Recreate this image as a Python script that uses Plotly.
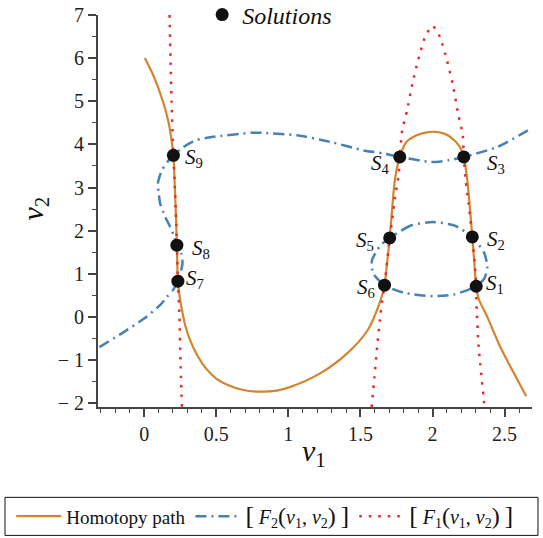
import numpy as np
import plotly.graph_objects as go

# ---------------- data ----------------
homotopy_v1 = [0.005, 0.07, 0.13, 0.17, 0.19, 0.203, 0.213, 0.221, 0.227, 0.234, 0.245, 0.26,
               0.285, 0.32, 0.37, 0.43, 0.50, 0.58, 0.68, 0.80, 0.92, 1.01, 1.22, 1.41,
               1.55, 1.64, 1.667, 1.685, 1.703, 1.72, 1.74, 1.773, 1.82, 1.89, 1.96, 2.02,
               2.08, 2.125, 2.19, 2.217, 2.24, 2.26, 2.276, 2.29, 2.303, 2.32, 2.38, 2.47,
               2.565, 2.65]
homotopy_v2 = [6.0, 5.55, 5.0, 4.5, 4.1, 3.75, 3.0, 2.3, 1.66, 0.83, 0.5, 0.2,
               -0.2, -0.55, -0.9, -1.2, -1.43, -1.58, -1.69, -1.735, -1.71, -1.63, -1.31, -0.84,
               -0.31, 0.39, 0.735, 1.25, 1.83, 2.5, 3.2, 3.71, 4.06, 4.21, 4.28, 4.29,
               4.25, 4.17, 3.94, 3.71, 3.2, 2.5, 1.85, 1.25, 0.71, 0.42, 0.0, -0.70,
               -1.31, -1.84]

f1_left_v1 = [0.176, 0.183, 0.19, 0.2, 0.203, 0.213, 0.221, 0.227, 0.234, 0.245, 0.252, 0.262]
f1_left_v2 = [7.0, 6.0, 5.0, 4.0, 3.75, 3.0, 2.3, 1.66, 0.83, 0.0, -1.0, -2.09]

f1_right_v1 = [1.578, 1.597, 1.616, 1.64, 1.655, 1.667, 1.703, 1.72, 1.74, 1.766, 1.773, 1.79,
               1.824, 1.86, 1.9, 1.95, 2.0, 2.05, 2.1, 2.14, 2.18, 2.21, 2.217, 2.23, 2.25,
               2.276, 2.30, 2.303, 2.305, 2.32, 2.356, 2.36]
f1_right_v2 = [-2.09, -1.4, -0.70, 0.08, 0.46, 0.735, 1.83, 2.24, 2.78, 3.32, 3.71, 4.33,
               4.79, 5.4, 5.95, 6.5, 6.75, 6.5, 5.95, 5.4, 4.67, 4.21, 3.71, 3.17, 2.63,
               1.85, 0.93, 0.71, 0.3, -0.70, -1.93, -2.09]

f2_open_v1 = [-0.31, -0.15, 0.0, 0.11, 0.157, 0.20, 0.234, 0.25, 0.266, 0.257, 0.222, 0.21,
              0.18, 0.146, 0.111, 0.10, 0.095, 0.123, 0.18, 0.203, 0.273, 0.354, 0.47, 0.75,
              0.83, 1.06, 1.29, 1.52, 1.66, 1.773, 1.99, 2.11, 2.217, 2.45, 2.70]
f2_open_v2 = [-0.70, -0.37, -0.04, 0.27, 0.46, 0.62, 0.83, 1.0, 1.24, 1.47, 1.66, 1.85,
              2.09, 2.32, 2.63, 2.90, 3.09, 3.40, 3.67, 3.747, 3.94, 4.09, 4.17, 4.27,
              4.265, 4.21, 4.06, 3.86, 3.79, 3.708, 3.59, 3.63, 3.708, 3.94, 4.40]

f2_loop_v1 = [2.0, 1.85, 1.703, 1.64, 1.58, 1.59, 1.667, 1.8, 2.0, 2.15, 2.303, 2.36,
              2.38, 2.36, 2.276, 2.15, 2.0]
f2_loop_v2 = [2.20, 2.12, 1.83, 1.66, 1.31, 1.0, 0.735, 0.56, 0.48, 0.52, 0.71, 0.89,
              1.16, 1.47, 1.854, 2.12, 2.20]

solution_v1 = [2.303, 2.276, 2.217, 1.773, 1.703, 1.667, 0.234, 0.227, 0.203]
solution_v2 = [0.71, 1.854, 3.708, 3.708, 1.831, 0.735, 0.827, 1.662, 3.747]
solution_names = ["1", "2", "3", "4", "5", "6", "7", "8", "9"]

# label placement style: (side, xshift px, yshift px)
label_style = [("left", 8, 2), ("left", 13, -3), ("left", 21, -7), ("right", -8, -7),
               ("right", -14, -3), ("right", -8, -3), ("left", 6, 2), ("left", 13, -4),
               ("left", 10, -3)]

ORANGE = "#D4842F"
BLUE = "#4682B4"
RED = "#E62B2B"
FONT = "Liberation Serif, Times New Roman, DejaVu Serif, serif"


def f_name(k):
    big = '<span style="font-size:26px">'
    mid = '<span style="font-size:24px">'
    return (f'{big}[</span> <span style="font-size:20px"><i>F</i><sub>{k}</sub></span>'
            f'{mid}(</span><span style="font-size:20px"><i>v</i><sub>1</sub>, '
            f'<i>v</i><sub>2</sub></span>{mid})</span> {big}]</span>')


fig = go.Figure()
fig.add_trace(go.Scatter(
    x=homotopy_v1, y=homotopy_v2, mode="lines", name="Homotopy path",
    line=dict(color=ORANGE, width=2.2, shape="spline", smoothing=0.8), legend="legend"))
fig.add_trace(go.Scatter(
    x=f2_open_v1 + [None] + f2_loop_v1, y=f2_open_v2 + [None] + f2_loop_v2, mode="lines",
    name=f_name(2),
    line=dict(color=BLUE, width=2.5, dash="11px,5px,2px,5px", shape="spline", smoothing=0.6),
    connectgaps=False, legend="legend"))
fig.add_trace(go.Scatter(
    x=f1_left_v1 + [None] + f1_right_v1, y=f1_left_v2 + [None] + f1_right_v2, mode="lines",
    name=f_name(1),
    line=dict(color=RED, width=2.5, dash="2.5px,7px", shape="spline", smoothing=0.6),
    connectgaps=False, legend="legend"))
fig.add_trace(go.Scatter(
    x=solution_v1, y=solution_v2, mode="markers", name="<i>Solutions</i>",
    marker=dict(size=13, color="#111111"), legend="legend2"))

for xv, yv, nm, (side, dx, dy) in zip(solution_v1, solution_v2, solution_names, label_style):
    fig.add_annotation(x=xv, y=yv, xref="x", yref="y", showarrow=False,
                       text=f"<i>S</i><sub>{nm}</sub>", xanchor=side, yanchor="middle",
                       xshift=dx, yshift=dy, font=dict(family=FONT, size=21, color="#111"))

# axis titles
fig.add_annotation(x=0.498, y=-0.17, xref="paper", yref="paper", showarrow=False,
                   text="<i>v</i><sub>1</sub>", font=dict(family=FONT, size=30, color="#111"))
fig.add_annotation(x=-0.193, y=0.507, xref="paper", yref="paper", showarrow=False,
                   textangle=-90, text="<i>v</i><sub>2</sub>",
                   font=dict(family=FONT, size=30, color="#111"))

# bottom legend frame
fig.add_shape(type="rect", xref="paper", yref="paper", x0=-0.2143, x1=1.0138,
              y0=-0.2305, y1=-0.3275, line=dict(color="#111", width=1))

yt = [-2, -1, 0, 1, 2, 3, 4, 5, 6, 7]
fig.update_layout(
    width=543, height=538, autosize=False,
    margin=dict(l=98, r=11, t=15, b=131, autoexpand=False),
    paper_bgcolor="white", plot_bgcolor="white",
    font=dict(family=FONT, size=18, color="#111"),
    xaxis=dict(range=[-0.32, 2.69], showgrid=False, zeroline=False, showline=True,
               linecolor="#444", linewidth=2, ticks="outside", ticklen=8, tickwidth=1.5,
               tickcolor="#444", tick0=0, dtick=0.5,
               tickfont=dict(family=FONT, size=20, color="#222"),
               minor=dict(ticks="outside", ticklen=4, tick0=0, dtick=0.1,
                          tickcolor="#444", tickwidth=1.2)),
    yaxis=dict(range=[-2.09, 7.0], showgrid=False, zeroline=False, showline=True,
               linecolor="#444", linewidth=2, ticks="outside", ticklen=8, tickwidth=1.5,
               tickcolor="#444", tickmode="array", tickvals=yt,
               ticktext=[("\u2212 " + str(-v)) if v < 0 else str(v) for v in yt],
               tickfont=dict(family=FONT, size=20, color="#222"),
               minor=dict(ticks="outside", ticklen=4, tickmode="array",
                          tickvals=list(np.arange(-1.5, 7.0, 1.0)),
                          tickcolor="#444", tickwidth=1.2)),
    showlegend=True,
    legend=dict(orientation="h", x=-0.2, xanchor="left", y=-0.279, yanchor="middle",
                font=dict(family=FONT, size=19, color="#111"), itemwidth=45,
                bgcolor="rgba(0,0,0,0)", traceorder="normal"),
    legend2=dict(orientation="h", x=0.24, xanchor="left", y=1.0, yanchor="middle",
                 font=dict(family=FONT, size=24, color="#111"),
                 bgcolor="rgba(0,0,0,0)"),
)

fig.write_html("out.html", config={"displayModeBar": False},
               post_script="document.body.style.margin='0px';document.body.style.padding='0px';")
